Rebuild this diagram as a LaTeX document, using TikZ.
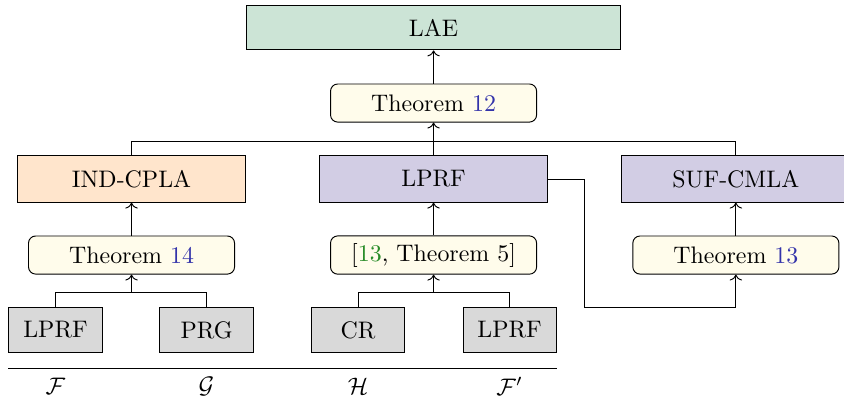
\documentclass[tikz,border=0pt]{standalone}
\usepackage{amsmath,amssymb}
\usetikzlibrary{arrows.meta,positioning}
\definecolor{laegreen}{RGB}{204,228,214}
\definecolor{indpeach}{RGB}{255,229,204}
\definecolor{prfpurple}{RGB}{210,205,228}
\definecolor{thmcream}{RGB}{255,252,235}
\definecolor{refblue}{RGB}{51,51,170}
\definecolor{citegreen}{RGB}{40,140,40}
\newcommand{\thmref}[1]{\textcolor{refblue}{#1}}
\newcommand{\citeref}[1]{\textcolor{citegreen}{#1}}

\begin{document}
\begin{tikzpicture}[every node/.style={inner sep=3pt},
    goal/.style={draw,minimum width=3.35cm,minimum height=0.68cm},
    thm/.style={draw,rounded corners=3pt,fill=thmcream,minimum width=3.03cm,minimum height=0.56cm},
    prim/.style={draw,fill=gray!30,minimum width=1.37cm,minimum height=0.66cm}]
    \clip (0,0) rectangle (12.41,-5.897);
    \node[goal,fill=laegreen,minimum width=5.51cm,minimum height=0.66cm] (lae) at (6.375,-0.404) {LAE};
    \node[thm] (thm12) at (6.375,-1.515) {Theorem \thmref{12}};
    \node[goal,fill=indpeach] (indcpla) at (1.934,-2.632) {IND-CPLA};
    \node[goal,fill=prfpurple] (lprf) at (6.375,-2.632) {LPRF};
    \node[goal,fill=prfpurple] (sufcmla) at (10.82,-2.632) {SUF-CMLA};
    \node[thm] (thm14) at (1.934,-3.75) {Theorem \thmref{14}};
    \node[thm] (thm5) at (6.375,-3.75) {[\citeref{13}, Theorem 5]};
    \node[thm] (thm13) at (10.82,-3.75) {Theorem \thmref{13}};
    \node[prim] (lprfF) at (0.816,-4.853) {LPRF};
    \node[prim] (prg) at (3.037,-4.853) {PRG};
    \node[prim] (cr) at (5.265,-4.853) {CR};
    \node[prim] (lprfB) at (7.493,-4.853) {LPRF};
    \node (lblF) at (0.816,-5.68) {$\mathcal{F}$};
    \node (lblG) at (3.037,-5.68) {$\mathcal{G}$};
    \node (lblH) at (5.265,-5.68) {$\mathcal{H}$};
    \node (lblFp) at (7.493,-5.68) {$\mathcal{F}'$};
    % joints
    \coordinate (top) at (6.375,-2.074);
    \coordinate (joinA) at (1.934,-4.294);
    \coordinate (joinB) at (6.375,-4.294);
    \coordinate (turn) at (8.60,-4.515);
    \draw[->] (thm12) -- (lae);
    \draw (indcpla.north) |- (top) -| (sufcmla.north);
    \draw (lprf.north) -- (top);
    \draw[->] (top) -- (thm12);
    \draw[->] (thm14) -- (indcpla);
    \draw[->] (thm5) -- (lprf);
    \draw[->] (thm13) -- (sufcmla);
    \draw (lprfF.north) |- (joinA) -| (prg.north);
    \draw[->] (joinA) -- (thm14);
    \draw (cr.north) |- (joinB) -| (lprfB.north);
    \draw[->] (joinB) -- (thm5);
    \draw[->] (lprf.east) -| (turn) -| (thm13.south);
    \draw ([yshift=-0.23cm]lprfF.south west) -- ([yshift=-0.23cm]lprfB.south east);
\end{tikzpicture}
\end{document}
